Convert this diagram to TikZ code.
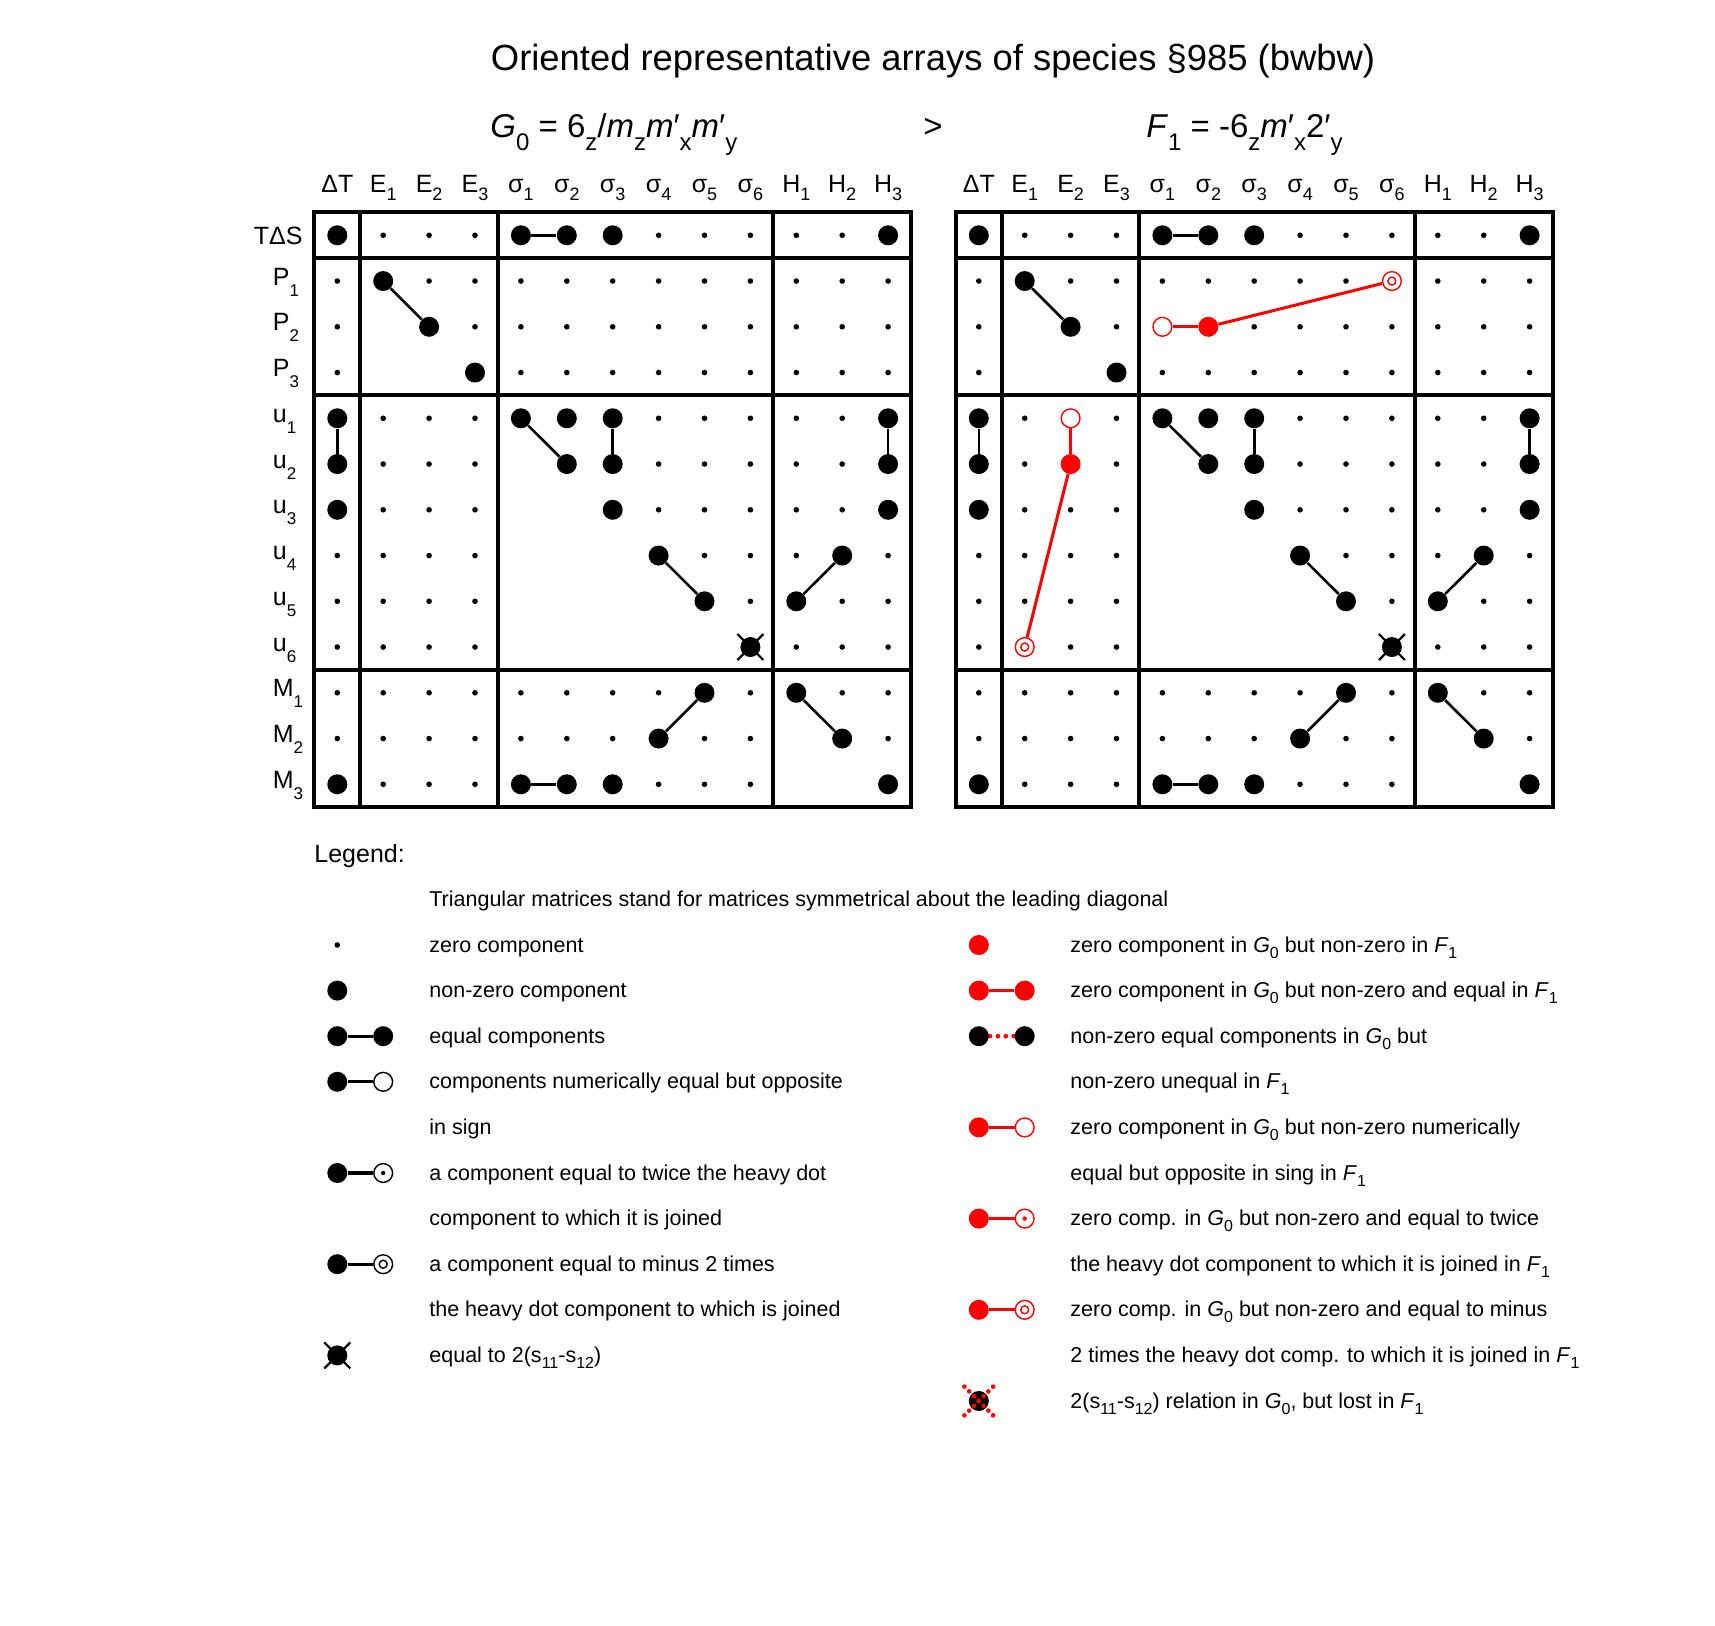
\documentclass[tikz,border=0pt]{standalone}
\usepackage{fontspec}
\setmainfont{Liberation Sans}
\pgfdeclarelayer{bottom}
\pgfdeclarelayer{background}
\pgfsetlayers{bottom,background,main}
\newcommand\hsubx[1]{\raisebox{-4pt}{\fontsize{9}{9}\selectfont #1}}
\newcommand\rsubx[1]{\raisebox{-5.5pt}{\fontsize{8.5}{8.5}\selectfont #1}}
\newcommand\fsubx[1]{\raisebox{-6.5pt}{\fontsize{12}{12}\selectfont #1}}
\newcommand\lsubx[1]{\raisebox{-3pt}{\fontsize{8}{8}\selectfont #1}}
\def\rowsL{{B,s,s,s,B,B,B,s,s,s,s,s,B},{s,B,s,s,s,s,s,s,s,s,s,s,s},{s,N,B,s,s,s,s,s,s,s,s,s,s},{s,N,N,B,s,s,s,s,s,s,s,s,s},{B,s,s,s,B,B,B,s,s,s,s,s,B},{B,s,s,s,N,B,B,s,s,s,s,s,B},{B,s,s,s,N,N,B,s,s,s,s,s,B},{s,s,s,s,N,N,N,B,s,s,s,B,s},{s,s,s,s,N,N,N,N,B,s,B,s,s},{s,s,s,s,N,N,N,N,N,X,s,s,s},{s,s,s,s,s,s,s,s,B,s,B,s,s},{s,s,s,s,s,s,s,B,s,s,N,B,s},{B,s,s,s,B,B,B,s,s,s,N,N,B}}
\def\rowsR{{B,s,s,s,B,B,B,s,s,s,s,s,B},{s,B,s,s,s,s,s,s,s,D,s,s,s},{s,N,B,s,H,R,s,s,s,s,s,s,s},{s,N,N,B,s,s,s,s,s,s,s,s,s},{B,s,H,s,B,B,B,s,s,s,s,s,B},{B,s,R,s,N,B,B,s,s,s,s,s,B},{B,s,s,s,N,N,B,s,s,s,s,s,B},{s,s,s,s,N,N,N,B,s,s,s,B,s},{s,s,s,s,N,N,N,N,B,s,B,s,s},{s,D,s,s,N,N,N,N,N,X,s,s,s},{s,s,s,s,s,s,s,s,B,s,B,s,s},{s,s,s,s,s,s,s,B,s,s,N,B,s},{B,s,s,s,B,B,B,s,s,s,N,N,B}}
\tikzset{
  k-s/.style={circle,fill=black,inner sep=0pt,minimum size=2.8pt},
  k-B/.style={circle,fill=black,inner sep=0pt,minimum size=10pt},
  k-X/.style={k-B},
  k-N/.style={circle,inner sep=0pt,minimum size=0pt},
  k-R/.style={circle,fill=red,inner sep=0pt,minimum size=10pt},
  k-H/.style={circle,draw=red,fill=white,line width=0.7pt,inner sep=0pt,minimum size=9.4pt},
  k-D/.style={k-H,path picture={\draw[red,line width=0.7pt] (path picture bounding box.center) circle[radius=2pt];}},
  k-T/.style={k-H,path picture={\fill[red] (path picture bounding box.center) circle[radius=1.1pt];}},
  k-h/.style={circle,draw=black,fill=white,line width=0.7pt,inner sep=0pt,minimum size=9.4pt},
  k-d/.style={k-h,path picture={\draw[black,line width=0.7pt] (path picture bounding box.center) circle[radius=2pt];}},
  k-t/.style={k-h,path picture={\fill[black] (path picture bounding box.center) circle[radius=1.1pt];}},
  conn/.style={line width=1.3pt},
  rconn/.style={draw=red,line width=1.5pt},
  lconn/.style={line width=1.6pt},
  rlconn/.style={draw=red,line width=1.6pt},
  xarm/.style={line width=1.1pt},
  frameline/.style={line width=2pt},
  hlab/.style={anchor=base,inner sep=0pt,font=\fontsize{12.5}{12.5}\selectfont},
  rlab/.style={anchor=base west,inner sep=0pt,font=\fontsize{12.5}{12.5}\selectfont},
  ltext/.style={anchor=base west,inner sep=0pt,font=\fontsize{10.75}{10.75}\selectfont},
  bigtext/.style={inner sep=0pt,font=\fontsize{16.5}{16.5}\selectfont},
}
\newcommand\drawpanel[3]{%
  \foreach \rl [count=\ri from 0] in #3 {%
    \foreach \ct [count=\ci from 0] in \rl {%
      \node[k-\ct] (#1-\ri-\ci) at ({#2+\ci*45.9},{235.3+\ri*45.75}) {};
    }
  }
}
\begin{document}
\begin{tikzpicture}[x=0.5pt,y=-0.5pt]
\useasboundingbox (0,0) rectangle (1715,1626);
\begin{pgfonlayer}{bottom}
\fill[white] (0,0) rectangle (1715,1626);
\end{pgfonlayer}
% title and formulas
\node[anchor=base,inner sep=0pt,font=\fontsize{18.2}{18.2}\selectfont] (title) at (933,71) {Oriented representative arrays of species §985 (bwbw)};
\node[bigtext,anchor=base west] (fG) at (490,138) {\textit{G}\fsubx{0} = 6\fsubx{z}/\textit{m}\fsubx{z}\textit{m}′\fsubx{x}\textit{m}′\fsubx{y}};
\node[bigtext,anchor=base] (gt) at (933,138) {>};
\node[bigtext,anchor=base west] (fF) at (1146,138) {\textit{F}\fsubx{1} = -6\fsubx{z}\textit{m}′\fsubx{x}2′\fsubx{y}};
% frames
\foreach \ox in {337.3,978.8} {
  \draw[frameline] ({\ox-22.95},212.4) rectangle ({\ox+573.75},807.2);
  \foreach \k in {0.5,3.5,9.5} {
    \draw[frameline] ({\ox+\k*45.9},212.4) -- ({\ox+\k*45.9},807.2);
    \draw[frameline] ({\ox-22.95},{235.3+\k*45.75}) -- ({\ox+573.75},{235.3+\k*45.75});
  }
}
% column headers
\foreach \pn/\ox in {L/337.3,R/978.8} {
  \foreach \lab [count=\ci from 0] in {ΔT,E\hsubx{1},E\hsubx{2},E\hsubx{3},σ\hsubx{1},σ\hsubx{2},σ\hsubx{3},σ\hsubx{4},σ\hsubx{5},σ\hsubx{6},H\hsubx{1},H\hsubx{2},H\hsubx{3}}
    \node[hlab] (h\pn-\ci) at ({\ox+\ci*45.9},193) {\lab};
}
% row labels
\node[anchor=base east,inner sep=0pt,font=\fontsize{12.5}{12.5}\selectfont] (rl-0) at (303,244.3) {TΔS};
\foreach \lab [count=\ri from 1] in {P\rsubx{1},P\rsubx{2},P\rsubx{3},u\rsubx{1},u\rsubx{2},u\rsubx{3},u\rsubx{4},u\rsubx{5},u\rsubx{6},M\rsubx{1},M\rsubx{2},M\rsubx{3}}
  \node[rlab] (rl-\ri) at (272.5,{239.3+\ri*45.75}) {\lab};
% cells
\drawpanel{L}{337.3}{\rowsL}
\drawpanel{R}{978.8}{\rowsR}
% connectors
\foreach \pn in {L,R} {
  \foreach \a/\b in {0-4/0-5,1-1/2-2,4-0/5-0,4-4/5-5,4-6/5-6,4-12/5-12,7-7/8-8,7-11/8-10,10-8/11-7,10-10/11-11,12-4/12-5}
    \draw[conn] (\pn-\a) -- (\pn-\b);
  \draw[xarm] ([shift={(-13,-13)}]\pn-9-9.center) -- ([shift={(13,13)}]\pn-9-9.center);
  \draw[xarm] ([shift={(-13,13)}]\pn-9-9.center) -- ([shift={(13,-13)}]\pn-9-9.center);
}
\draw[rconn] (R-2-4) -- (R-2-5);
\draw[rconn] (R-2-5) -- (R-1-9);
\draw[rconn] (R-4-2) -- (R-5-2);
\draw[rconn] (R-5-2) -- (R-9-1);
% legend
\node[anchor=base west,inner sep=0pt,font=\fontsize{12.5}{12.5}\selectfont] (lgtitle) at (314,862) {Legend:};
\node[ltext] (lt1) at (429,906.4) {Triangular matrices stand for matrices symmetrical about the leading diagonal};
% left column
\node[k-s] (lg2) at (337.3,945) {};
\node[ltext] (lt2) at (429,952) {zero component};
\node[k-B] (lg3) at (337.3,990.6) {};
\node[ltext] (lt3) at (429,997.6) {non-zero component};
\node[k-B] (lg4a) at (337.3,1036.2) {};
\node[k-B] (lg4b) at (383.2,1036.2) {};
\draw[lconn] (lg4a) -- (lg4b);
\node[ltext] (lt4) at (429,1043.2) {equal components};
\node[k-B] (lg5a) at (337.3,1081.8) {};
\node[k-h] (lg5b) at (383.2,1081.8) {};
\draw[lconn] (lg5a) -- (lg5b);
\node[ltext] (lt5) at (429,1088.8) {components numerically equal but opposite};
\node[ltext] (lt6) at (429,1134.4) {in sign};
\node[k-B] (lg7a) at (337.3,1173) {};
\node[k-t] (lg7b) at (383.2,1173) {};
\draw[lconn] (lg7a) -- (lg7b);
\node[ltext] (lt7) at (429,1180) {a component equal to twice the heavy dot};
\node[ltext] (lt8) at (429,1225.6) {component to which it is joined};
\node[k-B] (lg9a) at (337.3,1264.2) {};
\node[k-d] (lg9b) at (383.2,1264.2) {};
\draw[lconn] (lg9a) -- (lg9b);
\node[ltext] (lt9) at (429,1271.2) {a component equal to minus 2 times};
\node[ltext] (lt10) at (429,1316.8) {the heavy dot component to which is joined};
\node[k-X] (lg11) at (337.3,1355.4) {};
\draw[xarm] ([shift={(-13,-13)}]lg11.center) -- ([shift={(13,13)}]lg11.center);
\draw[xarm] ([shift={(-13,13)}]lg11.center) -- ([shift={(13,-13)}]lg11.center);
\node[ltext] (lt11) at (429,1362.4) {equal to 2(s\lsubx{11}-s\lsubx{12})};
% right column
\node[k-R] (rg2) at (978.8,945) {};
\node[ltext] (rt2) at (1070,952) {zero component in \textit{G}\lsubx{0} but non-zero in \textit{F}\lsubx{1}};
\node[k-R] (rg3a) at (978.8,990.6) {};
\node[k-R] (rg3b) at (1024.7,990.6) {};
\draw[rlconn] (rg3a) -- (rg3b);
\node[ltext] (rt3) at (1070,997.6) {zero component in \textit{G}\lsubx{0} but non-zero and equal in \textit{F}\lsubx{1}};
\node[k-B] (rg4a) at (978.8,1036.2) {};
\node[k-B] (rg4b) at (1024.7,1036.2) {};
\begin{pgfonlayer}{background}
\draw[red,line width=2.35pt,line cap=round,dash pattern=on 0pt off 3.95pt,dash phase=2.3pt] (rg4a.center) -- (rg4b.center);
\end{pgfonlayer}
\node[ltext] (rt4) at (1070,1043.2) {non-zero equal components in \textit{G}\lsubx{0} but};
\node[ltext] (rt5) at (1070,1088.8) {non-zero unequal in \textit{F}\lsubx{1}};
\node[k-R] (rg6a) at (978.8,1127.4) {};
\node[k-H] (rg6b) at (1024.7,1127.4) {};
\draw[rlconn] (rg6a) -- (rg6b);
\node[ltext] (rt6) at (1070,1134.4) {zero component in \textit{G}\lsubx{0} but non-zero numerically};
\node[ltext] (rt7) at (1070,1180) {equal but opposite in sing in \textit{F}\lsubx{1}};
\node[k-R] (rg8a) at (978.8,1218.6) {};
\node[k-T] (rg8b) at (1024.7,1218.6) {};
\draw[rlconn] (rg8a) -- (rg8b);
\node[ltext] (rt8) at (1070,1225.6) {zero comp. in \textit{G}\lsubx{0} but non-zero and equal to twice};
\node[ltext] (rt9) at (1070,1271.2) {the heavy dot component to which it is joined in \textit{F}\lsubx{1}};
\node[k-R] (rg10a) at (978.8,1309.8) {};
\node[k-D] (rg10b) at (1024.7,1309.8) {};
\draw[rlconn] (rg10a) -- (rg10b);
\node[ltext] (rt10) at (1070,1316.8) {zero comp. in \textit{G}\lsubx{0} but non-zero and equal to minus};
\node[ltext] (rt11) at (1070,1362.4) {2 times the heavy dot comp. to which it is joined in \textit{F}\lsubx{1}};
\node[k-B] (rg12) at (978.8,1401) {};
\draw[red,line width=2.3pt,line cap=round,dash pattern=on 0pt off 3.39pt] ([shift={(-14.4,-14.4)}]rg12.center) -- ([shift={(14.4,14.4)}]rg12.center);
\draw[red,line width=2.3pt,line cap=round,dash pattern=on 0pt off 3.39pt] ([shift={(-14.4,14.4)}]rg12.center) -- ([shift={(14.4,-14.4)}]rg12.center);
\node[ltext] (rt12) at (1070,1408) {2(s\lsubx{11}-s\lsubx{12}) relation in \textit{G}\lsubx{0}, but lost in \textit{F}\lsubx{1}};
\end{tikzpicture}
\end{document}
